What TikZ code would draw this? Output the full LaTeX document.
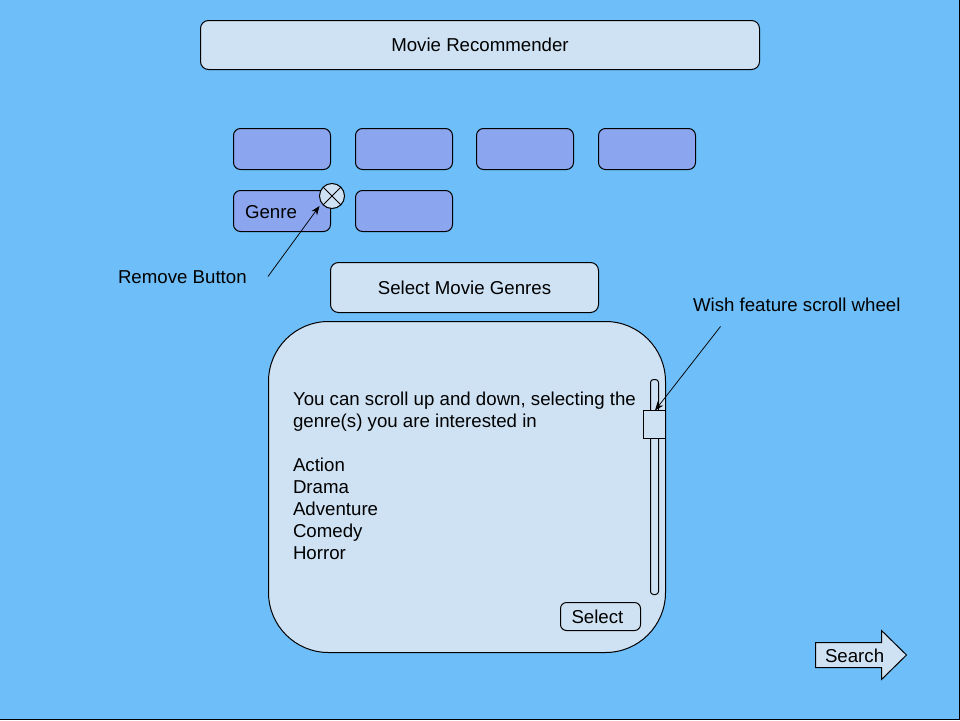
\documentclass[tikz,border=0pt]{standalone}
\usepackage{fontspec}
\setmainfont{Liberation Sans}
\usetikzlibrary{arrows.meta}
\definecolor{bgblue}{HTML}{6DBEF9}
\definecolor{lightbox}{HTML}{CFE2F3}
\definecolor{tile}{HTML}{8BA6EF}
\tikzset{
  every node/.style={font=\fontsize{18.67}{22}\selectfont, text=black, outer sep=0pt},
  lightpanel/.style={draw=black, line width=1pt, fill=lightbox, rounded corners=8pt, inner sep=0pt, anchor=north west},
  tilebox/.style={draw=black, line width=1pt, fill=tile, rounded corners=7pt, minimum width=97pt, minimum height=41pt, inner sep=0pt, anchor=north west},
  plainlabel/.style={inner sep=0pt, anchor=base west},
  pointer/.style={draw=black, line width=0.75pt, -{Stealth[length=9pt,width=7pt]}}
}
\begin{document}
\begin{tikzpicture}[x=1pt,y=-1pt]
\useasboundingbox (0,0) rectangle (960,720);
\fill[bgblue] (0,0) rectangle (960,720);
\draw[black,line width=1pt] (959.5,0) -- (959.5,719.5) -- (0,719.5);

\node[lightpanel, minimum width=559pt, minimum height=49pt] (title) at (200.5,20.5) {Movie Recommender};

\node[tilebox] (t1) at (233.5,128.5) {};
\node[tilebox] (t2) at (355.5,128.5) {};
\node[tilebox] (t3) at (476.5,128.5) {};
\node[tilebox] (t4) at (598.5,128.5) {};
\node[tilebox] (t5) at (233.5,190.5) {};
\node[plainlabel] (genre) at (245,218) {Genre};
\node[tilebox] (t6) at (355.5,190.5) {};

\node[circle, draw=black, line width=1pt, fill=lightbox, minimum size=25pt, inner sep=0pt] (rm) at (332,196) {};
\draw[black,line width=0.75pt] (rm.north west) -- (rm.south east) (rm.north east) -- (rm.south west);

\node[plainlabel] (rmlabel) at (118,283) {Remove Button};
\coordinate (rmfrom) at (268,276.5);
\coordinate (rmto) at (319.5,206);
\draw[pointer] (rmfrom) -- (rmto);

\node[lightpanel, minimum width=268pt, minimum height=50pt] (selhead) at (330.5,262.5) {Select Movie Genres};

\node[lightpanel, rounded corners=60pt, minimum width=397pt, minimum height=331pt] (panel) at (268.5,321.5) {};

\node[inner sep=0pt, anchor=base west, align=left] (body) at (293,559.5) {You can scroll up and down, selecting the\\genre(s) you are interested in\\\mbox{}\\Action\\Drama\\Adventure\\Comedy\\Horror};

\node[draw=black, line width=1pt, rounded corners=3pt, minimum width=8pt, minimum height=215pt, inner sep=0pt, anchor=north west] (track) at (650.5,379.5) {};
\node[draw=black, line width=1pt, fill=lightbox, minimum width=22pt, minimum height=28pt, inner sep=0pt, anchor=north west] (handle) at (643.5,410.5) {};

\node[plainlabel] (wish) at (693,311) {Wish feature scroll wheel};
\coordinate (wishfrom) at (720.5,326.5);
\coordinate (wishto) at (655,410.5);
\draw[pointer] (wishfrom) -- (wishto);

\node[draw=black, line width=1pt, rounded corners=6pt, minimum width=80pt, minimum height=28pt, inner sep=0pt, anchor=north west] (select) at (560.5,602.5) {};
\node[plainlabel] (selecttext) at (571.5,623.5) {Select};

\draw[black, line width=1pt, fill=lightbox, line join=miter] (815.5,642.5) -- (881.5,642.5) -- (881.5,630.5) -- (906.5,655) -- (881.5,679.5) -- (881.5,667.5) -- (815.5,667.5) -- cycle;
\node[plainlabel] (search) at (825,662) {Search};
\end{tikzpicture}
\end{document}
